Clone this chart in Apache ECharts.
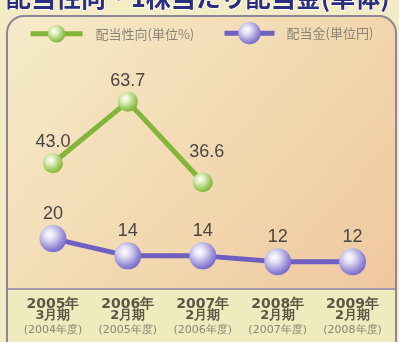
<!DOCTYPE html>
<html>
<head>
<meta charset="utf-8">
<script src="https://cdn.jsdelivr.net/npm/echarts@6/dist/echarts.min.js"></script>
<style>
  html, body { margin: 0; padding: 0; background: #f2ebc4; }
  #chart { width: 399px; height: 342px; }
</style>
</head>
<body>
<div id="chart"></div>
<script>
// Fiscal periods shown on the category axis (three lines per label)
const years   = ['2005年', '2006年', '2007年', '2008年', '2009年'];
const periods = ['3月期', '2月期', '2月期', '2月期', '2月期'];
const fiscal  = ['(2004年度)', '(2005年度)', '(2006年度)', '(2007年度)', '(2008年度)'];

// Payout ratio (%) and dividend per share (yen), non-consolidated
const payoutRatio = [43.0, 63.7, 36.6];
const dividend    = [20, 14, 14, 12, 12];

const seriesNames = ['配当性向(単位%)', '配当金(単位円)'];
const titleText = '配当性向・1株当たり配当金(単体)';

const categories = years.map((y, i) => y + '\n' + periods[i] + '\n' + fiscal[i]);

const greenBall = {
  type: 'radial', x: 0.38, y: 0.35, r: 0.75,
  colorStops: [
    { offset: 0, color: '#ffffff' },
    { offset: 0.25, color: '#e2f0c6' },
    { offset: 0.7, color: '#98c656' },
    { offset: 1, color: '#76aa2e' }
  ]
};
const purpleBall = {
  type: 'radial', x: 0.38, y: 0.35, r: 0.75,
  colorStops: [
    { offset: 0, color: '#ffffff' },
    { offset: 0.25, color: '#e4e0f4' },
    { offset: 0.7, color: '#9488d6' },
    { offset: 1, color: '#6b5cbc' }
  ]
};

const valueLabel = {
  show: true,
  position: 'top',
  distance: 2,
  fontFamily: 'Liberation Sans',
  fontSize: 18,
  color: '#4a4540'
};

const chart = echarts.init(document.getElementById('chart'), null, { renderer: 'canvas' });

chart.setOption({
  backgroundColor: '#f2ebc4',
  animation: false,
  graphic: [
    {
      type: 'rect', z: -5,
      shape: { x: 7, y: 16, width: 389, height: 340, r: 17 },
      style: {
        fill: {
          type: 'linear', x: 0, y: 0, x2: 1, y2: 1,
          colorStops: [
            { offset: 0, color: '#f5ebc9' },
            { offset: 0.5, color: '#f2d8b0' },
            { offset: 1, color: '#efc49c' }
          ]
        },
        stroke: '#8f8598', lineWidth: 2
      }
    },
    {
      type: 'rect', z: -4,
      shape: { x: 8, y: 289, width: 387, height: 60 },
      style: { fill: '#efebbf' }
    },
    {
      type: 'line', z: -3,
      shape: { x1: 8, y1: 289, x2: 395, y2: 289 },
      style: { stroke: '#a39bab', lineWidth: 2 }
    },
    {
      type: 'line', z: -3,
      shape: { x1: 7, y1: 289, x2: 7, y2: 342 },
      style: { stroke: '#8f8598', lineWidth: 2 }
    },
    {
      type: 'line', z: -3,
      shape: { x1: 396, y1: 289, x2: 396, y2: 342 },
      style: { stroke: '#8f8598', lineWidth: 2 }
    },
    {
      type: 'text', z: -2,
      x: 6, y: -15,
      style: {
        text: titleText,
        fontFamily: 'Noto Sans CJK JP',
        fontWeight: 'bold',
        fontSize: 25,
        fill: '#2b2e7c',
        stroke: '#ffffff',
        lineWidth: 1.5,
        verticalAlign: 'top'
      }
    }
  ],
  legend: [
    {
      left: 23, top: 20,
      itemWidth: 52, itemHeight: 22,
      data: [seriesNames[0]],
      lineStyle: { width: 5 },
      textStyle: {
        fontFamily: 'Noto Sans CJK JP', fontSize: 13, color: '#8a8376',
        padding: [0, 0, 0, 8]
      }
    },
    {
      left: 217, top: 17,
      itemWidth: 50, itemHeight: 28,
      data: [seriesNames[1]],
      lineStyle: { width: 5 },
      textStyle: {
        fontFamily: 'Noto Sans CJK JP', fontSize: 13, color: '#8a8376',
        padding: [0, 0, 0, 7]
      }
    }
  ],
  grid: { left: 15.5, width: 374.5, top: 60, height: 229 },
  xAxis: {
    type: 'category',
    data: categories,
    boundaryGap: true,
    z: 10,
    axisLine: { show: false },
    axisTick: { show: false },
    splitLine: { show: false },
    axisLabel: {
      margin: 9,
      interval: 0,
      formatter: function (v) {
        const p = v.split('\n');
        return '{a|' + p[0] + '}\n{b|' + p[1] + '}\n{c|' + p[2] + '}';
      },
      rich: {
        a: { fontFamily: 'DejaVu Sans', fontWeight: 'bold', fontSize: 14, lineHeight: 12, color: '#5b5746' },
        b: { fontFamily: 'DejaVu Sans', fontWeight: 'bold', fontSize: 13, lineHeight: 12, color: '#5b5746' },
        c: { fontFamily: 'DejaVu Sans', fontSize: 11, lineHeight: 16, color: '#8a8570' }
      }
    }
  },
  yAxis: [
    { type: 'value', min: 0.7, max: 77.7, show: false, splitLine: { show: false } },
    { type: 'value', min: 2.5, max: 82, show: false, splitLine: { show: false } }
  ],
  series: [
    {
      name: seriesNames[0],
      type: 'line',
      yAxisIndex: 0,
      data: payoutRatio.map((v, i) => i === 2
        ? { value: v, label: { offset: [4, -9] } }
        : v),
      symbol: 'circle',
      symbolSize: 20,
      itemStyle: { color: greenBall },
      lineStyle: { color: '#82b53a', width: 5 },
      label: Object.assign({}, valueLabel, {
        formatter: p => Number(p.value).toFixed(1)
      }),
      z: 3
    },
    {
      name: seriesNames[1],
      type: 'line',
      yAxisIndex: 1,
      data: dividend,
      symbol: 'circle',
      symbolSize: 27,
      itemStyle: { color: purpleBall },
      lineStyle: { color: '#6e5fc0', width: 5 },
      label: Object.assign({}, valueLabel),
      z: 2
    }
  ]
});
</script>
</body>
</html>
